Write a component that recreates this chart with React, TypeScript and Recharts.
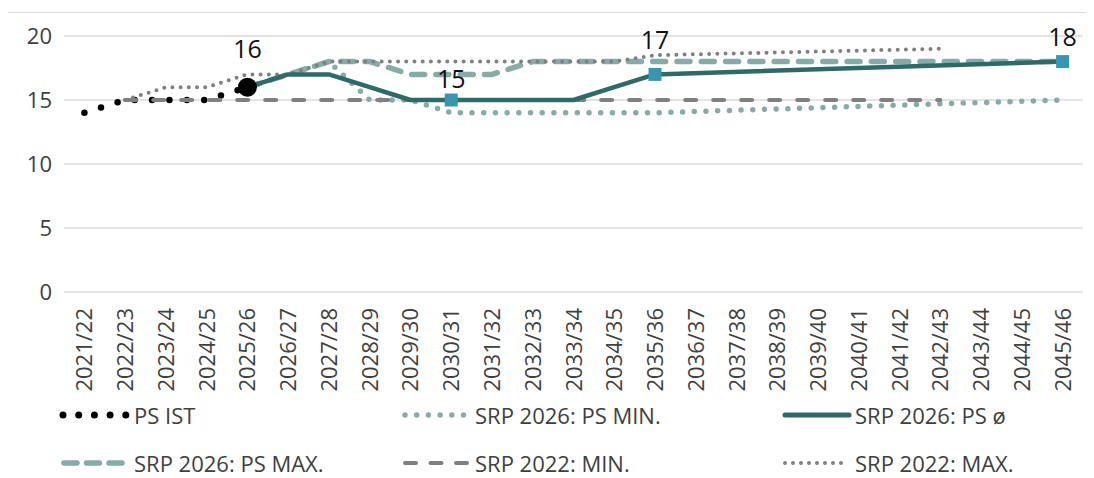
import React from "react";
import { CartesianGrid, Line, LineChart, XAxis, YAxis } from "recharts";

const categories = [
  "2021/22", "2022/23", "2023/24", "2024/25", "2025/26", "2026/27", "2027/28",
  "2028/29", "2029/30", "2030/31", "2031/32", "2032/33", "2033/34", "2034/35",
  "2035/36", "2036/37", "2037/38", "2038/39", "2039/40", "2040/41", "2041/42",
  "2042/43", "2043/44", "2044/45", "2045/46",
];

const N = null;
const psIst = [14, 15, 15, 15, 16, N, N, N, N, N, N, N, N, N, N, N, N, N, N, N, N, N, N, N, N];
const psMin = [N, N, N, N, 16, 17, 18, 15, 15, 14, 14, 14, 14, 14, 14, N, N, N, N, N, N, N, N, N, 15];
const psAvg = [N, N, N, N, 16, 17, 17, 16, 15, 15, 15, 15, 15, 16, 17, N, N, N, N, N, N, N, N, N, 18];
const psMax = [N, N, N, N, 16, 17, 18, 18, 17, 17, 17, 18, 18, 18, 18, 18, 18, 18, 18, 18, 18, 18, 18, 18, 18];
const srp22Min = [N, 15, 15, 15, 15, 15, 15, 15, 15, 15, 15, 15, 15, 15, 15, 15, 15, 15, 15, 15, 15, 15, N, N, N];
const srp22Max = [N, 15, 16, 16, 17, 17, 18, 18, 18, 18, 18, 18, 18, 18, 18.5, N, N, N, N, N, N, 19, N, N, N];
const yTicks = [0, 5, 10, 15, 20];

const data = categories.map((c, i) => ({
  cat: c,
  psIst: psIst[i],
  psMin: psMin[i],
  psAvg: psAvg[i],
  psMax: psMax[i],
  srp22Min: srp22Min[i],
  srp22Max: srp22Max[i],
}));

const FONT = "'Open Sans', 'Noto Sans', sans-serif";
const TEXT = "#404040";
const DARK = "#2e6a68";
const LIGHT = "#88aba8";
const GRAY = "#808080";
const SQUARE = "#3a96b0";

// label offsets above the marked points (index -> dy of label centre)
const avgMarks: Record<number, number> = { 9: -21, 14: -34, 24: -25 };
const istMarks: Record<number, number> = { 4: -38 };

const YTick = (props: any) => (
  <text x={44} y={props.y + 8} textAnchor="end" fontSize={22} fill={TEXT} fontFamily={FONT}>
    {props.payload.value}
  </text>
);

const XTick = (props: any) => (
  <text
    transform={`translate(${props.x + 8},300) rotate(-90)`}
    textAnchor="end"
    fontSize={22}
    fill={TEXT}
    fontFamily={FONT}
  >
    {props.payload.value}
  </text>
);

const avgDot = (props: any) => {
  const { cx, cy, index, value } = props;
  if (!(index in avgMarks) || cy == null) return <g key={`a${index}`} />;
  return (
    <g key={`a${index}`}>
      <rect x={cx - 6.5} y={cy - 6.5} width={13} height={13} fill={SQUARE} />
      <text x={cx} y={cy + avgMarks[index] + 9} textAnchor="middle" fontSize={25} fill="#111" fontFamily={FONT}>
        {value}
      </text>
    </g>
  );
};

const istDot = (props: any) => {
  const { cx, cy, index, value } = props;
  if (!(index in istMarks) || cy == null) return <g key={`i${index}`} />;
  return (
    <g key={`i${index}`}>
      <circle cx={cx} cy={cy} r={9.5} fill="#000" />
      <text x={cx} y={cy + istMarks[index] + 9} textAnchor="middle" fontSize={25} fill="#111" fontFamily={FONT}>
        {value}
      </text>
    </g>
  );
};

type LegendSpec = {
  label: string;
  x: number;
  w: number;
  tx: number;
  y: number;
  color: string;
  width: number;
  dash?: string;
};

const legendItems: LegendSpec[] = [
  { label: "PS IST", x: 55, w: 63, tx: 126, y: 407, color: "#000", width: 7, dash: "0 15.7" },
  { label: "SRP 2026: PS MIN.", x: 397, w: 58.5, tx: 467, y: 407, color: LIGHT, width: 5.5, dash: "0 11.7" },
  { label: "SRP 2026: PS ø", x: 777, w: 64, tx: 847, y: 407, color: DARK, width: 5 },
  { label: "SRP 2026: PS MAX.", x: 56, w: 58, tx: 126, y: 455, color: LIGHT, width: 5.5, dash: "13 9.5" },
  { label: "SRP 2022: MIN.", x: 397, w: 62, tx: 467, y: 455, color: GRAY, width: 4, dash: "11 14.5" },
  { label: "SRP 2022: MAX.", x: 777, w: 64, tx: 847, y: 455, color: GRAY, width: 4, dash: "0 8" },
];

export default function App() {
  return (
    <div style={{ position: "relative", width: 1086, height: 470, fontFamily: FONT }}>
      <div style={{ position: "absolute", left: -1, top: 4, width: 1087, height: 466, overflow: "hidden" }}>
        <div
          style={{
            width: 1200,
            height: 600,
            border: "1.5px solid #d9d9d9",
            boxSizing: "border-box",
          }}
        />
      </div>
      <div style={{ position: "absolute", left: 0, top: 0 }}>
        <LineChart width={1086} height={470} data={data} margin={{ top: 28, right: 11, bottom: 86, left: 0 }}>
          <CartesianGrid vertical={false} stroke="#dadada" strokeWidth={1.5} />
          <XAxis
            dataKey="cat"
            interval={0}
            tickLine={false}
            axisLine={false}
            height={100}
            padding={{ left: 20.4, right: 20.4 }}
            tick={<XTick />}
          />
          <YAxis
            domain={[0, 20]}
            ticks={yTicks}
            width={56}
            tickLine={false}
            axisLine={false}
            tick={<YTick />}
          />
          <Line
            dataKey="psIst"
            stroke="#000"
            strokeWidth={6.5}
            strokeDasharray="0 17.4"
            strokeLinecap="round"
            dot={istDot}
            activeDot={false}
            isAnimationActive={false}
          />
          <Line
            dataKey="psMin"
            stroke={LIGHT}
            strokeWidth={5.5}
            strokeDasharray="0 11.7"
            strokeLinecap="round"
            dot={false}
            activeDot={false}
            connectNulls
            isAnimationActive={false}
          />
          <Line
            dataKey="psMax"
            stroke={LIGHT}
            strokeWidth={5.5}
            strokeDasharray="13 11.3"
            strokeLinecap="round"
            dot={false}
            activeDot={false}
            isAnimationActive={false}
          />
          <Line
            dataKey="srp22Min"
            stroke={GRAY}
            strokeWidth={4}
            strokeDasharray="11 17"
            strokeLinecap="round"
            dot={false}
            activeDot={false}
            isAnimationActive={false}
          />
          <Line
            dataKey="srp22Max"
            stroke={GRAY}
            strokeWidth={4}
            strokeDasharray="0 8.2"
            strokeLinecap="round"
            dot={false}
            activeDot={false}
            connectNulls
            isAnimationActive={false}
          />
          <Line
            dataKey="psAvg"
            stroke={DARK}
            strokeWidth={4.5}
            strokeLinejoin="round"
            dot={avgDot}
            activeDot={false}
            connectNulls
            isAnimationActive={false}
          />
        </LineChart>
      </div>
      {legendItems.map((it) => (
        <React.Fragment key={it.label}>
          <svg
            style={{ position: "absolute", left: it.x - 4, top: it.y - 6 }}
            width={it.w + 8}
            height={12}
          >
            <line
              x1={4}
              x2={4 + it.w}
              y1={6}
              y2={6}
              stroke={it.color}
              strokeWidth={it.width}
              strokeDasharray={it.dash}
              strokeLinecap="round"
            />
          </svg>
          <span
            style={{
              position: "absolute",
              left: it.tx,
              top: it.y - 9,
              fontSize: 22,
              lineHeight: "18px",
              color: TEXT,
              whiteSpace: "nowrap",
            }}
          >
            {it.label}
          </span>
        </React.Fragment>
      ))}
    </div>
  );
}
